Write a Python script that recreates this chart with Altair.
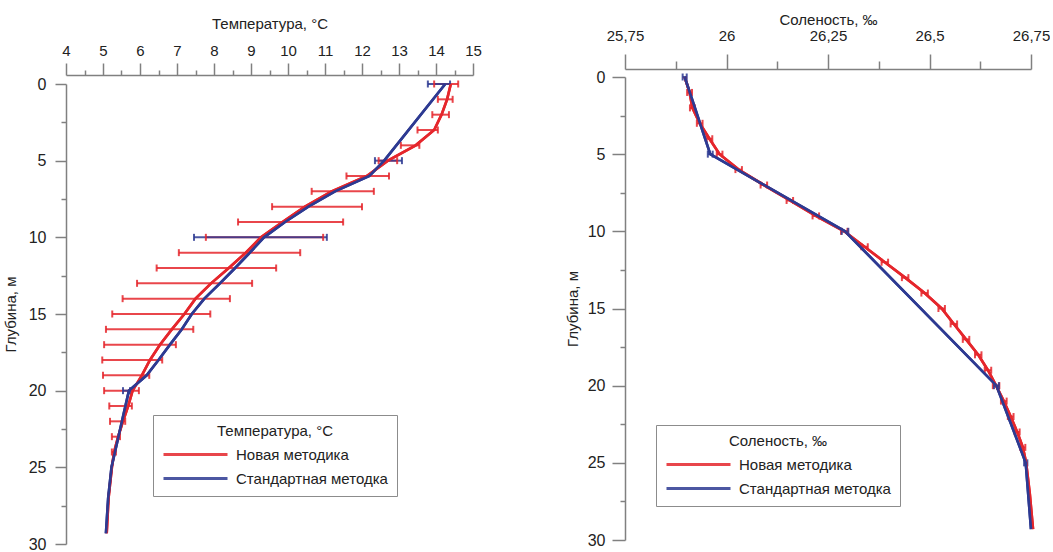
import altair as alt
import pandas as pd

FONT = "Liberation Sans"
RED = "#E5262C"
BLUE = "#2D3A92"
AXC = "#808080"
TXT = "#222222"
NEW = "Новая методика"
STD = "Стандартная методка"

# ---------------- Temperature ----------------
t_new_depth = [0, 1, 2, 3, 4, 5, 6, 7, 8, 9, 10, 11, 12, 13, 14, 15, 16, 17, 18, 19,
               20, 21, 22, 23, 24, 25, 27, 29.3]
t_new_val = [14.4, 14.3, 14.15, 13.95, 13.45, 12.7, 12.13, 11.18, 10.46, 9.85, 9.27, 8.86,
             8.4, 7.92, 7.5, 7.2, 6.86, 6.54, 6.27, 6.05, 5.8, 5.68, 5.54, 5.41, 5.3,
             5.24, 5.15, 5.1]

t_new_bar_depth = list(range(0, 25))
t_new_bar_lo = [13.95, 14.05, 13.9, 13.5, 13.05, 12.45, 11.58, 10.64, 9.57, 8.65, 7.78,
                7.05, 6.45, 5.92, 5.53, 5.25, 5.08, 5.03, 4.98, 5.0, 5.03, 5.17, 5.19,
                5.24, 5.24]
t_new_bar_hi = [14.6, 14.45, 14.35, 14.05, 13.55, 12.95, 12.73, 12.32, 12.0, 11.49, 10.95,
                10.33, 9.68, 9.03, 8.43, 7.9, 7.44, 6.97, 6.6, 6.25, 5.97, 5.78, 5.6,
                5.46, 5.35]

t_std_depth = [0, 5, 6, 7, 8, 9, 10, 11, 12, 13, 14, 15, 16, 17, 18, 19, 20, 25, 27, 29.3]
t_std_val = [14.25, 12.6, 12.2, 11.27, 10.55, 9.92, 9.35, 8.97, 8.57, 8.16, 7.74, 7.4,
             7.13, 6.81, 6.5, 6.18, 5.7, 5.23, 5.14, 5.08]
t_std_bar_depth = [0, 5, 10, 20]
t_std_bar_lo = [13.78, 12.35, 7.46, 5.54]
t_std_bar_hi = [14.38, 13.08, 11.05, 5.73]

# ---------------- Salinity ----------------
s_new_depth = [0, 1, 2, 3, 4, 5, 6, 7, 8, 9, 10, 11, 12, 13, 14, 15, 16, 17, 18, 19,
               20, 21, 22, 23, 24, 25, 27, 29.3]
s_new_val = [25.897, 25.909, 25.916, 25.934, 25.958, 25.983, 26.03, 26.092, 26.156,
             26.22, 26.29, 26.34, 26.39, 26.44, 26.488, 26.53, 26.56, 26.59, 26.62,
             26.644, 26.664, 26.683, 26.70, 26.716, 26.73, 26.738, 26.747, 26.755]
s_new_bar_depth = list(range(1, 25))
s_new_bar_err = [0.006, 0.006, 0.007, 0.007, 0.007, 0.008, 0.008, 0.008, 0.008, 0.008,
                 0.008, 0.008, 0.008, 0.008, 0.008, 0.008, 0.008, 0.008, 0.008, 0.008,
                 0.007, 0.007, 0.006, 0.006]

s_std_depth = [0, 5, 10, 20, 25, 29.3]
s_std_val = [25.897, 25.96, 26.292, 26.665, 26.737, 26.75]
s_std_bar_depth = [0, 5, 10, 20, 25]
s_std_bar_err = [0.005, 0.006, 0.008, 0.006, 0.004]

# ---------------- tables ----------------
t_line = pd.concat([
    pd.DataFrame({"depth": t_new_depth, "val": t_new_val, "series": NEW}),
    pd.DataFrame({"depth": t_std_depth, "val": t_std_val, "series": STD}),
])
t_bar = pd.concat([
    pd.DataFrame({"depth": t_new_bar_depth, "lo": t_new_bar_lo, "hi": t_new_bar_hi, "series": NEW}),
    pd.DataFrame({"depth": t_std_bar_depth, "lo": t_std_bar_lo, "hi": t_std_bar_hi, "series": STD}),
])

s_line = pd.concat([
    pd.DataFrame({"depth": s_new_depth, "val": s_new_val, "series": NEW}),
    pd.DataFrame({"depth": s_std_depth, "val": s_std_val, "series": STD}),
])
s_new_lookup = dict(zip(s_new_depth, s_new_val))
s_std_lookup = dict(zip(s_std_depth, s_std_val))
s_bar = pd.concat([
    pd.DataFrame({"depth": s_new_bar_depth,
                  "lo": [s_new_lookup[d] - e for d, e in zip(s_new_bar_depth, s_new_bar_err)],
                  "hi": [s_new_lookup[d] + e for d, e in zip(s_new_bar_depth, s_new_bar_err)],
                  "series": NEW}),
    pd.DataFrame({"depth": s_std_bar_depth,
                  "lo": [s_std_lookup[d] - e for d, e in zip(s_std_bar_depth, s_std_bar_err)],
                  "hi": [s_std_lookup[d] + e for d, e in zip(s_std_bar_depth, s_std_bar_err)],
                  "series": STD}),
])

cscale = alt.Scale(domain=[NEW, STD], range=[RED, BLUE])


def y_axis(major, lpad, tpad):
    return alt.Axis(
        title="Глубина, м", values=[i * 2.5 for i in range(13)],
        labelExpr="datum.value % 5 === 0 ? toString(datum.value) : ''",
        tickSize={"condition": {"test": "datum.value % 5 === 0", "value": major}, "value": 5},
        grid=False, domainColor=AXC, tickColor=AXC, domainWidth=1.5, tickWidth=1.5,
        labelFont=FONT, labelFontSize=16, labelColor=TXT, labelPadding=lpad,
        titleFont=FONT, titleFontSize=15, titleFontWeight="normal", titleColor=TXT,
        titlePadding=tpad, labelOverlap=False,
    )


def panel(line_df, bar_df, xdom, xvals, major_test, label_expr, xtitle, major, minor,
          offset, lpad, title_y, yrange, ymajor, ylpad, ytpad, w, h, legend_title, lx, ly):
    xaxis = alt.Axis(
        orient="top", title=xtitle, values=xvals, labelExpr=label_expr,
        tickSize={"condition": {"test": major_test, "value": major}, "value": minor},
        offset=offset, grid=False, domainColor=AXC, tickColor=AXC, domainWidth=1.5,
        tickWidth=1.5, labelFont=FONT, labelFontSize=15, labelColor=TXT,
        labelPadding=lpad, labelOverlap=False, labelFlush=False,
        titleFont=FONT, titleFontSize=15, titleFontWeight="normal", titleColor=TXT,
        titleY=title_y, titleBaseline="middle",
    )
    xs = alt.Scale(domain=xdom, nice=False, zero=False)
    ys = alt.Scale(domain=[0, 30], range=yrange, nice=False, zero=False)
    yax = y_axis(ymajor, ylpad, ytpad)
    legend = alt.Legend(
        title=legend_title, orient="none", legendX=lx, legendY=ly, direction="vertical",
        strokeColor="#8c8c8c", fillColor="white", padding=9, titleAnchor="middle",
        titleFont=FONT, titleFontSize=15, titleFontWeight="normal", titleColor=TXT,
        titlePadding=6, labelFont=FONT, labelFontSize=15, labelColor=TXT,
        symbolType="M-1,0H7", symbolSize=256, symbolStrokeWidth=3, labelOffset=55,
        rowPadding=6,
    )
    color = alt.Color("series:N", scale=cscale, legend=legend, title=legend_title)
    bars = alt.Chart(bar_df).mark_rule(strokeWidth=2, opacity=0.85).encode(
        x=alt.X("lo:Q", scale=xs, axis=xaxis),
        x2="hi:Q",
        y=alt.Y("depth:Q", scale=ys, axis=yax),
        color=color,
    )
    cap_lo = alt.Chart(bar_df).mark_tick(orient="vertical", size=7, thickness=2, opacity=0.85).encode(
        x=alt.X("lo:Q", scale=xs, axis=xaxis),
        y=alt.Y("depth:Q", scale=ys, axis=yax),
        color=color,
    )
    cap_hi = alt.Chart(bar_df).mark_tick(orient="vertical", size=7, thickness=2, opacity=0.85).encode(
        x=alt.X("hi:Q", scale=xs, axis=xaxis),
        y=alt.Y("depth:Q", scale=ys, axis=yax),
        color=color,
    )
    lines = alt.Chart(line_df).mark_line(strokeWidth=2.6).encode(
        x=alt.X("val:Q", scale=xs, axis=xaxis),
        y=alt.Y("depth:Q", scale=ys, axis=yax),
        color=color,
        order="depth:Q",
    )
    return alt.layer(lines, bars, cap_lo, cap_hi, lines).properties(width=w, height=h)


left = panel(
    t_line, t_bar, [4, 15], [4 + i * 0.5 for i in range(23)],
    "datum.value % 1 === 0", "datum.value % 1 === 0 ? toString(datum.value) : ''",
    "Температура, °C", 12, 5, 2, 5, -52, [7, 467], 11, 9, 10,
    407, 467, "Температура, °C", 87, 338,
)
right = panel(
    s_line, s_bar, [25.75, 26.75], [25.75 + i * 0.125 for i in range(9)],
    "datum.value % 0.25 === 0",
    "datum.value % 0.25 === 0 ? replace(toString(datum.value), '.', ',') : ''",
    "Соленость, ‰", 15, 8, 8, 11, -50, [0, 463], 13, 7, 7,
    406, 463, "Соленость, ‰", 31, 348,
)

chart = alt.concat(left, right, columns=2, spacing=83, align="none").resolve_scale(
    color="independent"
).configure(
    padding={"left": 3, "top": 12, "right": 0, "bottom": 0},
    background="white",
).configure_view(stroke=None)

chart.save("out.html", embed_options={"renderer": "svg", "actions": False})
